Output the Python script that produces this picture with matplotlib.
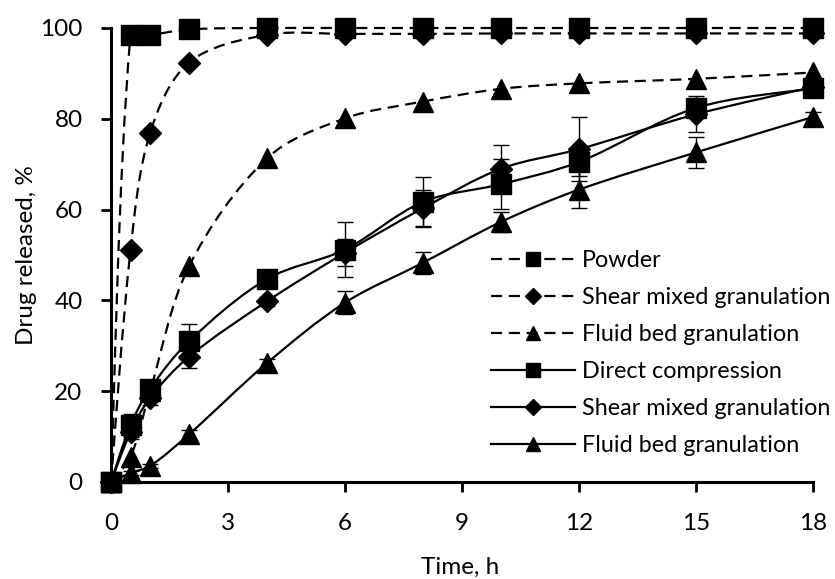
import numpy as np
import matplotlib
matplotlib.use("Agg")
import matplotlib.pyplot as plt
from matplotlib.path import Path
from matplotlib.patches import PathPatch
from matplotlib.lines import Line2D

plt.rcParams['font.family'] = ['Lato', 'DejaVu Sans']

# Sampling times (h)
time_h = [0, 0.5, 1, 2, 4, 6, 8, 10, 12, 15, 18]

# Dashed series
powder = [0, 98.5, 98.5, 99.7, 100, 100, 100, 100, 100, 100, 100]
shear_dashed = [0, 51, 76.8, 92.4, 98.5, 98.7, 98.7, 98.8, 98.8, 98.8, 98.8]
fluid_dashed = [0, 5.5, 20, 47.5, 71.3, 80.1, 83.8, 86.6, 87.8, 88.8, 90.2]

# Solid series with standard deviations
direct_comp = [0, 12.5, 20.5, 31, 44.7, 51.2, 61.7, 65.6, 70.5, 82.4, 86.7]
direct_err = [0, 2.5, 1.5, 3.8, 1.0, 6.0, 5.5, 5.5, 3.0, 2.0, 1.0]
shear_solid = [0, 11, 18.5, 27.6, 39.8, 50.5, 60.3, 69.0, 73.3, 81.0, 87.0]
shear_err = [0, 1.5, 1.5, 2.5, 1.0, 3.0, 4.0, 5.2, 7.0, 4.0, 1.0]
fluid_solid = [0, 2, 3.5, 10.5, 26.2, 39.5, 48.3, 57.3, 64.4, 72.6, 80.4]
fluid_err = [0, 0.5, 0.5, 1.0, 1.0, 2.6, 2.4, 2.2, 4.0, 3.5, 1.0]

labels = ["Powder", "Shear mixed granulation", "Fluid bed granulation",
          "Direct compression", "Shear mixed granulation", "Fluid bed granulation"]

fig = plt.figure(figsize=(8.35, 5.79), dpi=100)
ax = fig.add_axes([111 / 835, 1 - 482 / 579, 702 / 835, 454 / 579])
ax.set_xlim(0, 18)
ax.set_ylim(0, 100)

DASH = (0, (5, 3))


def smooth_path(x, y):
    """Bezier path through the points, tangents weighted by segment lengths."""
    pts = ax.transData.transform(np.column_stack([x, y]))
    n = len(pts)
    f = 1.0 / 3.0
    cin = [None] * n
    cout = [None] * n
    for i in range(n):
        if i == 0:
            cout[i] = pts[0] + (pts[1] - pts[0]) / 6.0
            continue
        if i == n - 1:
            cin[i] = pts[i] - (pts[i] - pts[i - 1]) / 6.0
            continue
        t = pts[i + 1] - pts[i - 1]
        dp = np.hypot(*(pts[i] - pts[i - 1]))
        dn = np.hypot(*(pts[i + 1] - pts[i]))
        s = dp + dn if dp + dn > 0 else 1.0
        cin[i] = pts[i] - t * f * dp / s
        cout[i] = pts[i] + t * f * dn / s
    verts = [pts[0]]
    codes = [Path.MOVETO]
    for i in range(n - 1):
        verts += [cout[i], cin[i + 1], pts[i + 1]]
        codes += [Path.CURVE4] * 3
    verts = ax.transData.inverted().transform(np.array(verts))
    return Path(verts, codes)


def draw_curve(y, ls):
    patch = PathPatch(smooth_path(time_h, y), facecolor='none', edgecolor='black',
                      linewidth=1.6, linestyle=ls, transform=ax.transData,
                      clip_on=False, zorder=2)
    ax.add_patch(patch)


series = [
    (powder, None, 's', 14, DASH),
    (shear_dashed, None, 'D', 11.5, DASH),
    (fluid_dashed, None, '^', 15, DASH),
    (direct_comp, direct_err, 's', 14, '-'),
    (shear_solid, shear_err, 'D', 11.5, '-'),
    (fluid_solid, fluid_err, '^', 15, '-'),
]

for k, (vals, err, mk, ms, ls) in enumerate(series):
    draw_curve(vals, ls)
    if err is not None:
        ax.errorbar(time_h, vals, yerr=err, fmt='none', ecolor='black',
                    elinewidth=1.0, capsize=5.5, capthick=1.0, zorder=3,
                    clip_on=False)
    ax.plot(time_h, vals, linestyle='none', marker=mk, markersize=ms,
            color='black', zorder=4 + k * 0.1, clip_on=False)

# Axes styling
for side in ('top', 'right'):
    ax.spines[side].set_visible(False)
for side in ('left', 'bottom'):
    ax.spines[side].set_linewidth(2.2)
ax.set_xticks([0, 3, 6, 9, 12, 15, 18])
ax.set_yticks([0, 20, 40, 60, 80, 100])
ax.tick_params(axis='both', direction='out', length=7.5, width=2, labelsize=17.5,
               colors='black')
ax.tick_params(axis='y', pad=13)
ax.tick_params(axis='x', pad=15)

ax.set_xlabel("Time, h", fontsize=17.5)
ax.set_ylabel("Drug released, %", fontsize=17.5)
ax.xaxis.set_label_coords(0.497, -0.165)
ax.yaxis.set_label_coords(-0.105, 0.5)

# Legend
leg_handles = []
for vals, err, mk, ms, ls in series:
    leg_handles.append(Line2D([], [], color='black', linewidth=1.6, linestyle=ls,
                              marker=mk, markersize=ms * 0.7))
leg = ax.legend(leg_handles, labels, loc='upper left',
                bbox_to_anchor=(491 / 835, 1 - 250 / 579), bbox_transform=fig.transFigure,
                frameon=False, fontsize=16.8, handlelength=3.6, handletextpad=0.3,
                labelspacing=0.69, borderpad=0, borderaxespad=0)

fig.savefig("out.png", dpi=100)
